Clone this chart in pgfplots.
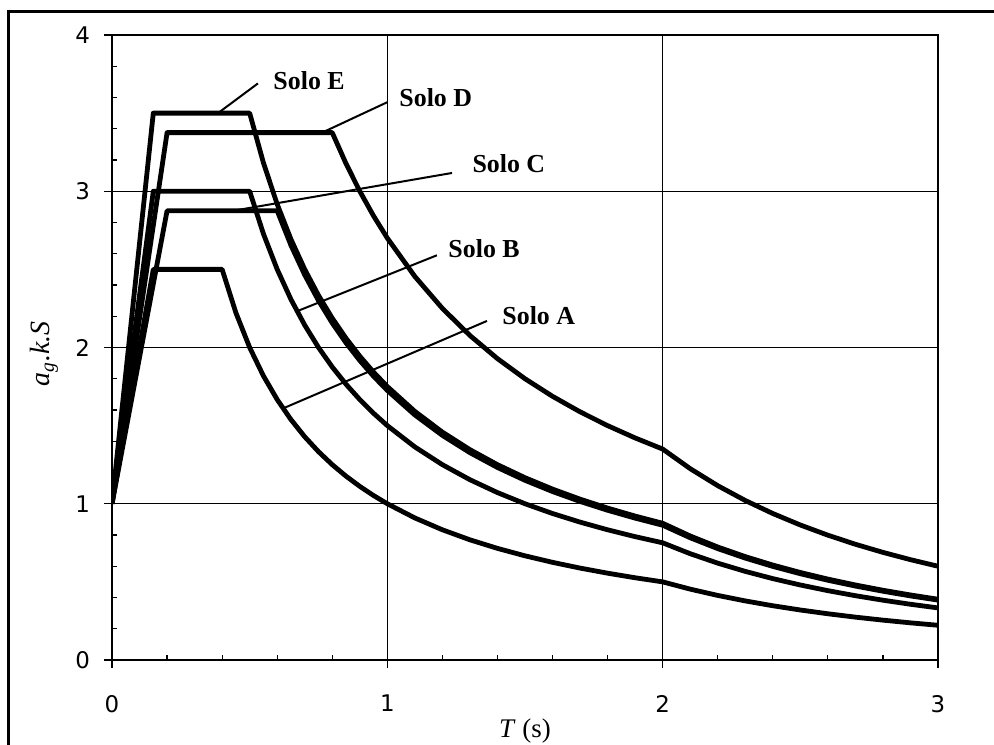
\documentclass[border=0pt]{standalone}
\usepackage{fontspec}
\setmainfont{Liberation Serif}
\newfontfamily\dejavu{DejaVu Sans}
\usepackage{pgfplots}
\pgfplotsset{compat=1.18}
\pgfplotsset{curve/.style={black, line width=2.4bp, line join=round, mark=none}}
\begin{document}
\begin{tikzpicture}
\useasboundingbox (0,0) rectangle (497bp,372.5bp);
\draw[line width=1.5bp] (4bp,0) -- (4bp,366.5bp) -- (497bp,366.5bp);
\begin{axis}[
 at={(56bp,42.5bp)}, anchor=south west,
 scale only axis, width=413bp, height=312.5bp,
 xmin=0, xmax=3, ymin=0, ymax=4,
 xtick={0,1,2,3}, ytick={0,1,2,3,4},
 minor x tick num=4, minor y tick num=4,
 xtick pos=bottom, ytick pos=left,
 tick align=outside, major tick length=4bp, minor tick length=-2.5bp,
 tick style={black, line width=0.6bp},
 grid=major, major grid style={black, line width=0.5bp},
 axis line style={black, line width=0.9bp},
 /pgf/number format/assume math mode=true,
 xticklabel style={font=\dejavu\fontsize{11.5}{13}\selectfont, yshift=-10bp},
 yticklabel style={font=\dejavu\fontsize{11.5}{13}\selectfont, xshift=-3.5bp},
 xlabel={\textit{T} (s)},
 xlabel style={at={(axis description cs:0.5,-0.1136)}, anchor=center, font=\fontsize{13.5}{15}\selectfont},
 ylabel={\textit{a}\textsubscript{\textit{g}}\textit{.k.S}},
 ylabel style={at={(axis description cs:-0.0823,0.49)}, anchor=center, font=\fontsize{14}{16}\selectfont},
]
% Solo A
\addplot[curve] coordinates {(0,1) (0.15,2.5) (0.4,2.5) (0.45,2.2222) (0.5,2.0) (0.55,1.8182) (0.6,1.6667) (0.65,1.5385) (0.7,1.4286) (0.75,1.3333) (0.8,1.25) (0.85,1.1765) (0.9,1.1111) (0.95,1.0526) (1.0,1.0) (1.1,0.9091) (1.2,0.8333) (1.3,0.7692) (1.4,0.7143) (1.5,0.6667) (1.6,0.625) (1.7,0.5882) (1.8,0.5556) (1.9,0.5263) (2.0,0.5) (2.1,0.4535) (2.2,0.4132) (2.3,0.3781) (2.4,0.3472) (2.5,0.32) (2.6,0.2959) (2.7,0.2743) (2.8,0.2551) (2.9,0.2378) (3.0,0.2222)};
% Solo B
\addplot[curve] coordinates {(0,1) (0.15,3.0) (0.5,3.0) (0.55,2.7273) (0.6,2.5) (0.65,2.3077) (0.7,2.1429) (0.75,2.0) (0.8,1.875) (0.85,1.7647) (0.9,1.6667) (0.95,1.5789) (1.0,1.5) (1.1,1.3636) (1.2,1.25) (1.3,1.1538) (1.4,1.0714) (1.5,1.0) (1.6,0.9375) (1.7,0.8824) (1.8,0.8333) (1.9,0.7895) (2.0,0.75) (2.1,0.6803) (2.2,0.6198) (2.3,0.5671) (2.4,0.5208) (2.5,0.48) (2.6,0.4438) (2.7,0.4115) (2.8,0.3827) (2.9,0.3567) (3.0,0.3333)};
% Solo C
\addplot[curve] coordinates {(0,1) (0.2,2.875) (0.6,2.875) (0.65,2.6538) (0.7,2.4643) (0.75,2.3) (0.8,2.1563) (0.85,2.0294) (0.9,1.9167) (0.95,1.8158) (1.0,1.725) (1.1,1.5682) (1.2,1.4375) (1.3,1.3269) (1.4,1.2321) (1.5,1.15) (1.6,1.0781) (1.7,1.0147) (1.8,0.9583) (1.9,0.9079) (2.0,0.8625) (2.1,0.7823) (2.2,0.7128) (2.3,0.6522) (2.4,0.5990) (2.5,0.552) (2.6,0.5104) (2.7,0.4733) (2.8,0.4401) (2.9,0.4102) (3.0,0.3833)};
% Solo D
\addplot[curve] coordinates {(0,1) (0.2,3.375) (0.8,3.375) (0.85,3.1765) (0.9,3.0) (0.95,2.8421) (1.0,2.7) (1.1,2.4545) (1.2,2.25) (1.3,2.0769) (1.4,1.9286) (1.5,1.8) (1.6,1.6875) (1.7,1.5882) (1.8,1.5) (1.9,1.4211) (2.0,1.35) (2.1,1.2245) (2.2,1.1157) (2.3,1.0208) (2.4,0.9375) (2.5,0.864) (2.6,0.7988) (2.7,0.7407) (2.8,0.6888) (2.9,0.6421) (3.0,0.6)};
% Solo E
\addplot[curve] coordinates {(0,1) (0.15,3.5) (0.5,3.5) (0.55,3.1818) (0.6,2.9167) (0.65,2.6923) (0.7,2.5) (0.75,2.3333) (0.8,2.1875) (0.85,2.0588) (0.9,1.9444) (0.95,1.8421) (1.0,1.75) (1.1,1.5909) (1.2,1.4583) (1.3,1.3462) (1.4,1.25) (1.5,1.1667) (1.6,1.0938) (1.7,1.0294) (1.8,0.9722) (1.9,0.9211) (2.0,0.875) (2.1,0.7937) (2.2,0.7231) (2.3,0.6616) (2.4,0.6076) (2.5,0.56) (2.6,0.5178) (2.7,0.4801) (2.8,0.4464) (2.9,0.4162) (3.0,0.3889)};
% leader lines
\draw[line width=1bp] (axis cs:0.385,3.5) -- (axis cs:0.53,3.69);
\draw[line width=1bp] (axis cs:0.763,3.375) -- (axis cs:1.0,3.57);
\draw[line width=1bp] (axis cs:0.44,2.875) -- (axis cs:1.235,3.117);
\draw[line width=1bp] (axis cs:0.672,2.232) -- (axis cs:1.18,2.59);
\draw[line width=1bp] (axis cs:0.621,1.61) -- (axis cs:1.362,2.17);
% labels
\node[anchor=west, inner sep=0, font=\bfseries\fontsize{13}{15}\selectfont] at (axis cs:0.585,3.706) {Solo E};
\node[anchor=west, inner sep=0, font=\bfseries\fontsize{13}{15}\selectfont] at (axis cs:1.0425,3.597) {Solo D};
\node[anchor=west, inner sep=0, font=\bfseries\fontsize{13}{15}\selectfont] at (axis cs:1.308,3.174) {Solo C};
\node[anchor=west, inner sep=0, font=\bfseries\fontsize{13}{15}\selectfont] at (axis cs:1.2205,2.630) {Solo B};
\node[anchor=west, inner sep=0, font=\bfseries\fontsize{13}{15}\selectfont] at (axis cs:1.4166,2.2016) {Solo A};
\end{axis}
\end{tikzpicture}
\end{document}
